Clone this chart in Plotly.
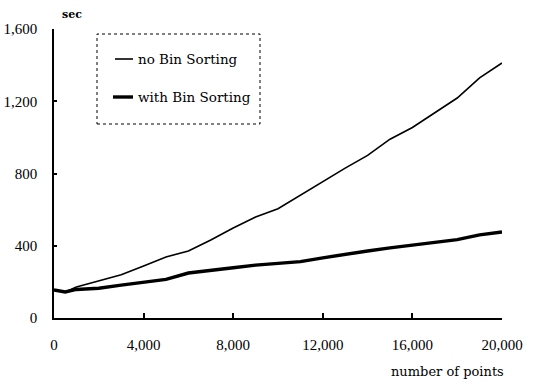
import plotly.graph_objects as go

points = [0, 500, 1000, 2000, 3000, 4000, 5000, 6000, 7000, 8000, 9000, 10000,
          11000, 12000, 13000, 14000, 15000, 16000, 17000, 18000, 19000, 20000]
no_bin = [155, 144, 172, 208, 240, 288, 338, 371, 432, 498, 559, 605,
          681, 753, 830, 900, 990, 1055, 1135, 1218, 1329, 1412]
with_bin = [155, 144, 158, 165, 182, 199, 214, 249, 262, 278, 293, 304,
            312, 333, 354, 371, 388, 402, 417, 434, 460, 476]
series_names = ["no Bin Sorting", "with Bin Sorting"]
x_ticks = [0, 4000, 8000, 12000, 16000, 20000]
y_ticks = [0, 400, 800, 1200, 1600]

TICK_FONT = "Liberation Serif"
TEXT_FONT = "DejaVu Serif"
PW, PH = 448, 289  # plot area size in px

fig = go.Figure()
fig.add_trace(go.Scatter(x=points, y=no_bin, mode="lines", name=series_names[0],
                         line=dict(color="black", width=1.6), showlegend=False))
fig.add_trace(go.Scatter(x=points, y=with_bin, mode="lines", name=series_names[1],
                         line=dict(color="black", width=3.4), showlegend=False))

fig.update_layout(
    width=540, height=383,
    margin=dict(l=54, r=38, t=29, b=65, autoexpand=False),
    paper_bgcolor="white", plot_bgcolor="white",
    font=dict(family=TICK_FONT, size=15, color="black"),
    xaxis=dict(range=[0, 20000], tickvals=x_ticks, tickformat=",d",
               showgrid=False, zeroline=False, showline=True, linecolor="black",
               linewidth=1.5, ticks="inside", ticklen=5, tickwidth=1.5,
               tickcolor="black", ticklabelstandoff=12),
    yaxis=dict(range=[0, 1600], tickvals=y_ticks, tickformat=",d",
               showgrid=False, zeroline=False, showline=True, linecolor="black",
               linewidth=1.5, ticks="inside", ticklen=3, tickwidth=1.5,
               tickcolor="black", ticklabelstandoff=12),
)

# axis unit labels
fig.add_annotation(x=0, y=1, xref="paper", yref="paper", text="<b>sec</b>",
                   showarrow=False, xanchor="center", yanchor="bottom",
                   xshift=18, yshift=6, font=dict(family=TEXT_FONT, size=11))
fig.add_annotation(x=1, y=0, xref="paper", yref="paper", text="number of points",
                   showarrow=False, xanchor="right", yanchor="top",
                   xshift=4, yshift=-44, font=dict(family=TEXT_FONT, size=13))

# legend box (dotted border)
x0, x1 = 43 / PW, 206 / PW
y0, y1 = 1 - 95 / PH, 1 - 5 / PH
fig.add_shape(type="rect", xref="paper", yref="paper", x0=x0, x1=x1, y0=y0, y1=y1,
              line=dict(color="black", width=1, dash="dot"), fillcolor="white")
for i, (name, w) in enumerate(zip(series_names, [1.6, 3.4])):
    yy = 1 - (30 + 38 * i) / PH
    fig.add_shape(type="line", xref="paper", yref="paper",
                  x0=(61 - 2 * i) / PW, x1=79 / PW, y0=yy, y1=yy,
                  line=dict(color="black", width=w))
    fig.add_annotation(x=82 / PW, y=yy, xref="paper", yref="paper", text=name,
                       showarrow=False, xanchor="left", yanchor="middle",
                       font=dict(family=TEXT_FONT, size=13.5))

fig.write_html("out.html", config={"displayModeBar": False},
               post_script="document.body.style.margin='0';")
